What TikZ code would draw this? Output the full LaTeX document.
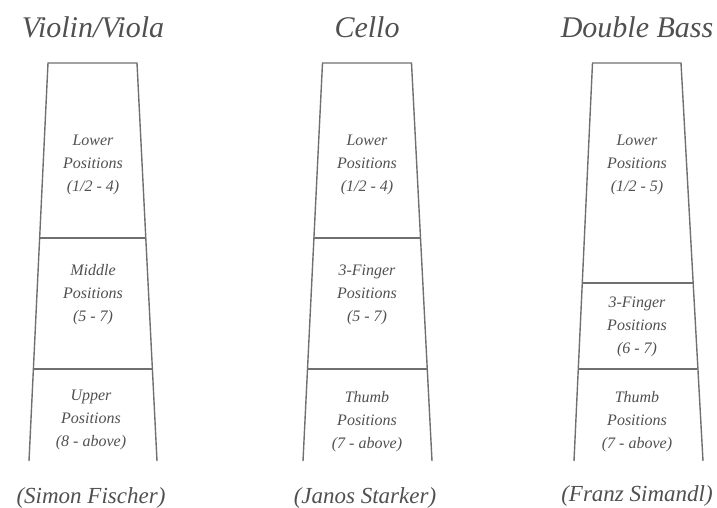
\documentclass[tikz,border=0pt]{standalone}
\usepackage{fontspec}
\setmainfont{Liberation Serif}
\definecolor{txt}{HTML}{505050}
\definecolor{ln}{HTML}{707070}
\tikzset{
  board/.style={draw=ln, line width=1.4pt, line join=miter},
  divider/.style={draw=ln, line width=1.4pt},
  poslabel/.style={text=txt, align=center, font=\fontsize{16}{23}\selectfont\itshape, inner sep=0pt},
  ttl/.style={text=txt, font=\fontsize{30}{34}\selectfont\itshape, inner sep=0pt},
  auth/.style={text=txt, font=\fontsize{23}{26}\selectfont\itshape, inner sep=0pt}
}
\begin{document}
\begin{tikzpicture}[x=1pt,y=-1pt]
\useasboundingbox (0,0) rectangle (717,508);
% Violin/Viola
\node[ttl] (t1) at (93,27) {Violin/Viola};
\draw[board] (29,461) -- (48,63) -- (137,63) -- (157,461);
\draw[divider] (40,238) -- (145,238);
\draw[divider] (34,369) -- (152,369);
\node[poslabel] (v1) at (93,165) {Lower\\Positions\\(1/2 - 4)};
\node[poslabel] (v2) at (93,295) {Middle\\Positions\\(5 - 7)};
\node[poslabel] (v3) at (91,420) {Upper\\Positions\\(8 - above)};
\node[auth] (a1) at (91,498) {(Simon Fischer)};
% Cello
\node[ttl] (t2) at (367,27) {Cello};
\draw[board] (303,461) -- (322.5,63) -- (411.5,63) -- (432,461);
\draw[divider] (314,238) -- (421,238);
\draw[divider] (308,369) -- (427,369);
\node[poslabel] (c1) at (367,165) {Lower\\Positions\\(1/2 - 4)};
\node[poslabel] (c2) at (367,295) {3-Finger\\Positions\\(5 - 7)};
\node[poslabel] (c3) at (367,422) {Thumb\\Positions\\(7 - above)};
\node[auth] (a2) at (365,498) {(Janos Starker)};
% Double Bass
\node[ttl] (t3) at (637,27) {Double Bass};
\draw[board] (574,461) -- (592.5,63) -- (681,63) -- (703,461);
\draw[divider] (582.5,283) -- (692.5,283);
\draw[divider] (578.5,369) -- (697,369);
\node[poslabel] (b1) at (637,165) {Lower\\Positions\\(1/2 - 5)};
\node[poslabel] (b2) at (637,327) {3-Finger\\Positions\\(6 - 7)};
\node[poslabel] (b3) at (637,422) {Thumb\\Positions\\(7 - above)};
\node[auth] (a3) at (637,496) {(Franz Simandl)};
\end{tikzpicture}
\end{document}
